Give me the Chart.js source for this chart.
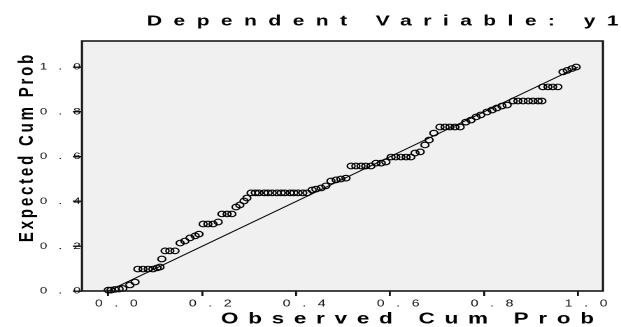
<!DOCTYPE html>
<html>
<head>
<meta charset="utf-8">
<script src="https://cdn.jsdelivr.net/npm/chart.js@4/dist/chart.umd.min.js"></script>
<style>
html, body { margin: 0; padding: 0; background: #fff; overflow: hidden; }
/* the picture is wider than it is drawn: stretch the whole chart sideways */
#wrap { position: relative; width: 444px; height: 327px; transform: scaleX(1.39865); transform-origin: 0 0; }
</style>
</head>
<body>
<div id="wrap"><canvas id="ppChart" width="444" height="327"></canvas></div>
<script>
// observed cumulative probability (x)
var observed = [
	0.000, 0.006, 0.014, 0.023, 0.031, 0.046, 0.057,
	0.063, 0.074, 0.085, 0.095, 0.104, 0.110,
	0.114,
	0.121, 0.131, 0.142,
	0.153, 0.163, 0.174, 0.185, 0.193,
	0.202, 0.212, 0.223, 0.234,
	0.242, 0.253, 0.263,
	0.272, 0.280, 0.289, 0.295,
	0.304, 0.313, 0.321, 0.332, 0.340, 0.349, 0.359, 0.368, 0.376, 0.387, 0.395, 0.404, 0.414, 0.423,
	0.434, 0.442, 0.453, 0.463, 0.474, 0.485, 0.495, 0.506,
	0.517, 0.527, 0.538, 0.548, 0.559,
	0.570, 0.581, 0.591,
	0.602, 0.612, 0.623, 0.634, 0.644,
	0.653, 0.664, 0.674, 0.683, 0.693,
	0.706, 0.717, 0.727, 0.738, 0.749,
	0.761, 0.772, 0.783, 0.793, 0.806, 0.817, 0.827, 0.838, 0.849,
	0.862, 0.872, 0.883, 0.894, 0.904, 0.915, 0.923,
	0.925, 0.936, 0.946, 0.957,
	0.968, 0.977, 0.987, 0.996
];
// expected cumulative probability (y)
var expected = [
	0.004, 0.004, 0.007, 0.009, 0.011, 0.027, 0.040,
	0.098, 0.098, 0.098, 0.098, 0.103, 0.107,
	0.143,
	0.179, 0.179, 0.179,
	0.214, 0.223, 0.237, 0.246, 0.254,
	0.299, 0.299, 0.299, 0.308,
	0.344, 0.344, 0.344,
	0.375, 0.384, 0.402, 0.415,
	0.438, 0.438, 0.438, 0.438, 0.438, 0.438, 0.438, 0.438, 0.438, 0.438, 0.438, 0.438, 0.438, 0.438,
	0.451, 0.455, 0.460, 0.469, 0.491, 0.496, 0.500, 0.504,
	0.558, 0.558, 0.558, 0.558, 0.558,
	0.571, 0.571, 0.576,
	0.598, 0.598, 0.598, 0.598, 0.598,
	0.616, 0.621, 0.652, 0.674, 0.705,
	0.732, 0.732, 0.732, 0.732, 0.732,
	0.754, 0.763, 0.777, 0.786, 0.799, 0.808, 0.817, 0.826, 0.830,
	0.848, 0.848, 0.848, 0.848, 0.848, 0.848, 0.848,
	0.911, 0.911, 0.911, 0.911,
	0.978, 0.985, 0.993, 1.000
];
// axis ticks and the y = x reference line
var tickValues = [0, 0.2, 0.4, 0.6, 0.8, 1.0];
var diagonal = [0, 1];

var titleText = 'Dependent Variable: y1';
var xTitle = 'Observed Cum Prob';
var yTitle = 'Expected Cum Prob';

(function() {
	var fontFamily = '"Liberation Sans", Arial, sans-serif';

	// 背景・枠・タイトル
	var framePlugin = {
		id: 'frame',
		beforeDraw: function(chart) {
			var ctx = chart.ctx;
			var a = chart.chartArea;
			ctx.letterSpacing = '0px';
			ctx.save();
			ctx.fillStyle = '#f0f0f0';
			ctx.fillRect(a.left, a.top, a.right - a.left, a.bottom - a.top);
			ctx.restore();
		},
		afterDraw: function(chart) {
			var ctx = chart.ctx;
			var a = chart.chartArea;
			ctx.save();
			ctx.strokeStyle = '#1a1a1a';
			ctx.lineWidth = 1.6;
			ctx.strokeRect(a.left, a.top, a.right - a.left, a.bottom - a.top);

			ctx.fillStyle = '#000';
			ctx.textAlign = 'left';
			ctx.textBaseline = 'alphabetic';
			ctx.font = 'bold 15px ' + fontFamily;
			ctx.letterSpacing = '8.2px';
			ctx.fillText(titleText, 105, 25.5);

			ctx.font = 'bold 16px ' + fontFamily;
			ctx.letterSpacing = '7px';
			ctx.fillText(xTitle, 158, 323.5);

			ctx.translate(23.6, 147);
			ctx.rotate(-Math.PI / 2);
			ctx.textAlign = 'center';
			ctx.font = 'bold 15px ' + fontFamily;
			ctx.letterSpacing = '2.8px';
			ctx.fillText(yTitle, 0, 0);
			ctx.restore();
			ctx.letterSpacing = '0px';
		}
	};

	var setTicks = function(axis) {
		axis.ticks = tickValues.map(function(v) { return { value: v }; });
	};
	// SPSS style spaced out labels: "0   .   2"
	var tickLabel = function(v) {
		return Number(v).toFixed(1).split('').join('   ');
	};

	var points = {
		data: observed.map(function(v, i) { return { x: v, y: expected[i] }; }),
		pointStyle: 'circle',
		pointRadius: 2.8,
		borderWidth: 1.1,
		borderColor: '#000',
		backgroundColor: 'rgba(0,0,0,0)',
		clip: false
	};
	var refLine = {
		data: diagonal.map(function(v) { return { x: v, y: v }; }),
		showLine: true,
		borderColor: '#000',
		borderWidth: 1,
		pointRadius: 0
	};

	var config = {
		type: 'scatter',
		data: { datasets: [refLine, points] },
		options: {
			animation: false,
			responsive: false,
			devicePixelRatio: 2,
			layout: { padding: { top: 41, right: 12.9, left: 0, bottom: 0 } },
			plugins: {
				legend: { display: false },
				tooltip: { enabled: false },
				title: { display: false }
			},
			scales: {
				x: {
					type: 'linear',
					min: -0.056,
					max: 1.053,
					afterBuildTicks: setTicks,
					afterFit: function(s) { s.height = 36; },
					border: { display: false },
					grid: { drawOnChartArea: false, drawTicks: true, tickLength: 5, color: '#111', lineWidth: 1.4 },
					ticks: {
						autoSkip: false,
						maxRotation: 0,
						padding: 1.5,
						labelOffset: 5.7,
						color: '#111',
						font: { family: fontFamily, size: 10 },
						callback: tickLabel
					}
				},
				y: {
					type: 'linear',
					min: 0,
					max: 1.116,
					afterBuildTicks: setTicks,
					afterFit: function(s) { s.width = 58.6; },
					border: { display: false },
					grid: { drawOnChartArea: false, drawTicks: true, tickLength: 6.5, color: '#111', lineWidth: 1.4 },
					ticks: {
						autoSkip: false,
						padding: -5.5,
						color: '#111',
						font: { family: fontFamily, size: 9.5 },
						callback: tickLabel
					}
				}
			}
		},
		plugins: [framePlugin]
	};

	new Chart(document.getElementById('ppChart').getContext('2d'), config);
})();
</script>
</body>
</html>
